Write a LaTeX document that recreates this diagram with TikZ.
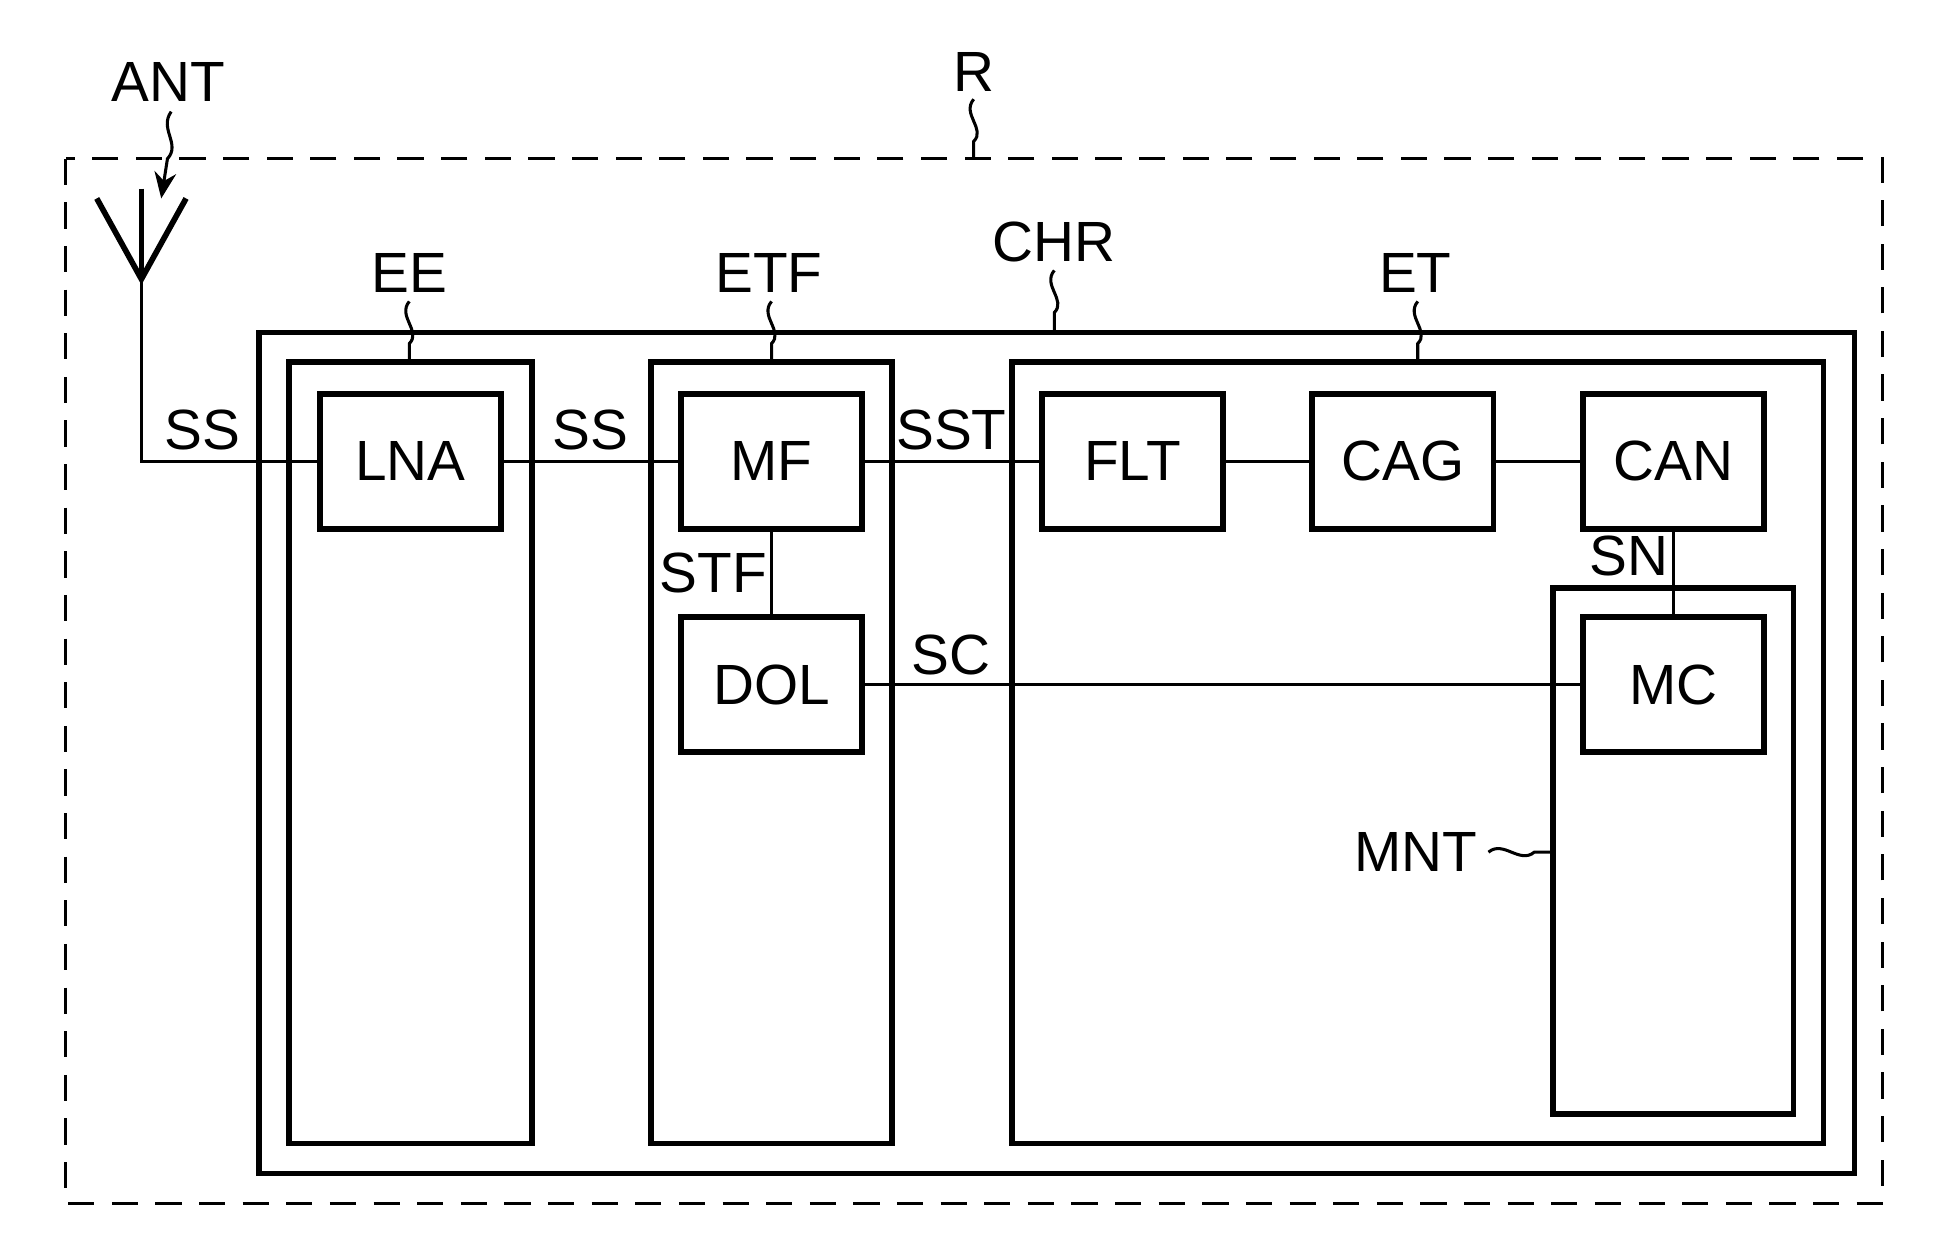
\documentclass[tikz,border=0pt]{standalone}
\usepackage{fontspec}
\setmainfont{Liberation Sans}
\usetikzlibrary{arrows.meta}
\begin{document}
\begin{tikzpicture}[x=0.01cm,y=-0.01cm,
  thk/.style={line width=1.3pt},
  thn/.style={line width=0.7pt},
  blk/.style={thk,draw,minimum width=1.46cm,minimum height=1.09cm,inner sep=0pt,font=\fontsize{13}{15}\selectfont},
  lab/.style={font=\fontsize{13}{15}\selectfont,inner sep=1pt},
  sq/.style={thn}]
\useasboundingbox (0,0) rectangle (1560,1007);
\draw[thn,dash pattern=on 6pt off 4pt] (53,128) rectangle (1518,970);
\node[lab] (R) at (785,58) {R};
\draw[sq] (785,80) .. controls (775,92) and (795,104) .. (785,114) -- (785,128);
% antenna
\node[lab] (ANT) at (136,66) {ANT};
\draw[sq,-{Stealth[length=6pt,width=5pt]}] (138,90) .. controls (128,104) and (146,116) .. (135,128) -- (130,160);
\coordinate (af) at (114,225);
\draw[thk] (78,160) -- (af) -- (150,160);
\draw[thk] (114,152) -- (af);
% containers
\draw[thk] (209,268) rectangle (1495,946);
\node[lab] (CHR) at (850,195) {CHR};
\draw[sq] (850,218) .. controls (840,230) and (860,242) .. (850,252) -- (850,268);
\draw[thk] (233,292) rectangle (429,922);
\node[lab] (EE) at (330,220) {EE};
\draw[sq] (330,243) .. controls (320,255) and (340,267) .. (330,277) -- (330,292);
\draw[thk] (525,292) rectangle (719,922);
\node[lab] (ETF) at (620,220) {ETF};
\draw[sq] (622,243) .. controls (612,255) and (632,267) .. (622,277) -- (622,292);
\draw[thk] (816,292) rectangle (1470,922);
\node[lab] (ET) at (1141,220) {ET};
\draw[sq] (1143,243) .. controls (1133,255) and (1153,267) .. (1143,277) -- (1143,292);
\draw[thk] (1252,474) rectangle (1446,898);
\node[lab,anchor=east] (MNT) at (1195,687) {MNT};
\draw[sq] (1200,687) .. controls (1212,677) and (1225,697) .. (1237,687) -- (1252,687);
% blocks
\node[blk] (LNA) at (331,372) {LNA};
\node[blk] (MF) at (622,372) {MF};
\node[blk] (DOL) at (622,552) {DOL};
\node[blk] (FLT) at (913,372) {FLT};
\node[blk] (CAG) at (1131,372) {CAG};
\node[blk] (CAN) at (1349,372) {CAN};
\node[blk] (MC) at (1349,552) {MC};
% connectors
\draw[thn] (af) |- (LNA.west);
\node[lab] at (163,347) {SS};
\draw[thn] (LNA) -- (MF);
\node[lab] at (476,347) {SS};
\draw[thn] (MF) -- (FLT);
\node[lab] at (767,347) {SST};
\draw[thn] (FLT) -- (CAG);
\draw[thn] (CAG) -- (CAN);
\draw[thn] (MF) -- (DOL);
\node[lab] at (575,462) {STF};
\draw[thn] (CAN) -- (MC);
\node[lab] at (1313,448) {SN};
\draw[thn] (DOL) -- (MC);
\node[lab] at (767,528) {SC};
\end{tikzpicture}
\end{document}
